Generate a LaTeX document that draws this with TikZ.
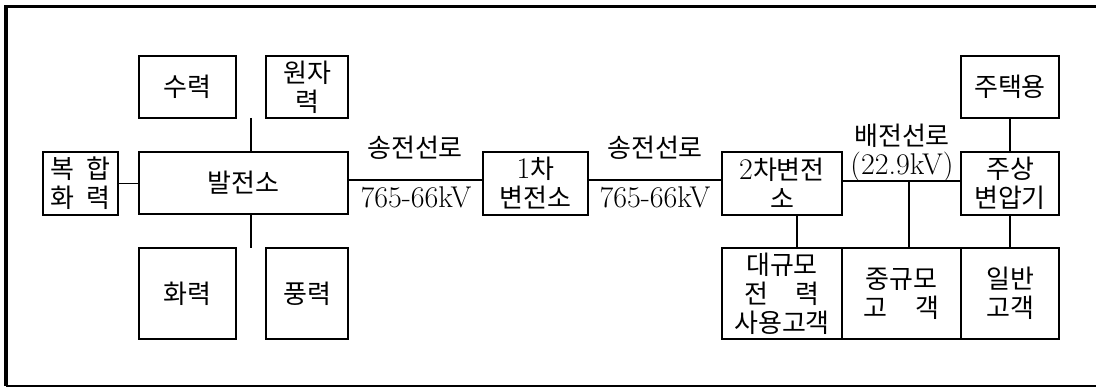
\documentclass[tikz,border=0pt]{standalone}
\usepackage{fontspec}
\newfontfamily\kr{Noto Sans CJK KR}
\begin{document}
\begin{tikzpicture}[x=1pt,y=-1pt,
  box/.style={draw,line width=1.6pt,inner sep=0pt,align=center,font=\kr\fontsize{26}{29}\selectfont},
  lab/.style={inner sep=0pt,align=center,font=\kr\fontsize{26}{29}\selectfont},
  lat/.style={inner sep=0pt,align=center,font=\rmfamily\fontsize{30}{30}\selectfont},
  conn/.style={line width=1.6pt}]
\useasboundingbox (0,0) rectangle (1096,387);
% frame
\draw[line width=3.2pt] (6,386) -- (6,6.5) -- (1096,6.5);
\draw[line width=1.2pt] (6,386) -- (1096,386);
% power plant side
\node[box,minimum width=97pt,minimum height=62pt] (su) at (187.5,87) {수력};
\node[box,minimum width=82pt,minimum height=62pt] (won) at (307,87) {원자\\력};
\node[box,minimum width=75pt,minimum height=63pt] (bok) at (80.5,183.5) {복\hspace{12pt}합\\화\hspace{12pt}력};
\node[box,minimum width=209pt,minimum height=62pt] (bal) at (243.5,183) {발전소};
\node[box,minimum width=97pt,minimum height=91pt] (hwa) at (187.5,293.5) {화력};
\node[box,minimum width=82pt,minimum height=91pt] (pung) at (307,293.5) {풍력};
\coordinate (topj) at (251,118);
\coordinate (botj) at (251,248);
\draw[conn] (topj) -- (topj |- bal.north);
\draw[conn] (botj) -- (botj |- bal.south);
\draw[conn] (bok.east) -- (bok.east -| bal.west);
% substation 1
\node[box,minimum width=105pt,minimum height=63pt] (s1) at (535.5,183.5) {{\rmfamily\fontsize{30}{29}\selectfont 1}차\\변전소};
\draw[conn] (bal.east |- 0,180) coordinate (l1a) -- (s1.west |- l1a);
\node[lab] (t1) at (415,148) {송전선로};
\node[lat] (v1) at (416,197) {765-66kV};
% substation 2
\node[box,minimum width=120pt,minimum height=63pt] (s2) at (782,183.5) {{\rmfamily\fontsize{30}{29}\selectfont 2}차변전\\소};
\draw[conn] (s1.east |- 0,180) coordinate (l2a) -- (s2.west |- l2a);
\node[lab] (t2) at (655,148) {송전선로};
\node[lat] (v2) at (655,197) {765-66kV};
% pole transformer
\node[box,minimum width=98pt,minimum height=63pt] (ju) at (1010,183.5) {주상\\변압기};
\node[box,minimum width=98pt,minimum height=62pt] (jt) at (1010,87) {주택용};
\draw[conn] (jt.south) -- (ju.north);
\draw[conn] (s2.east |- 0,181) coordinate (l3a) -- (ju.west |- l3a);
\node[lab] (t3) at (902,136) {배전선로};
\node[lat] (v3) at (902,167) {(22.9kV)};
% customers
\node[box,minimum width=120pt,minimum height=91pt] (dae) at (782,293.5) {대규모\\전\hspace{28pt}력\\사용고객};
\node[box,minimum width=119pt,minimum height=91pt] (jung) at (901.5,293.5) {중규모\\고\hspace{28pt}객};
\node[box,minimum width=98pt,minimum height=91pt] (il) at (1010,293.5) {일반\\고객};
\draw[conn] (797,215) coordinate (c1) -- (c1 |- dae.north);
\draw[conn] (909,181) coordinate (c2) -- (c2 |- jung.north);
\draw[conn] (ju.south) -- (il.north);
\end{tikzpicture}
\end{document}
